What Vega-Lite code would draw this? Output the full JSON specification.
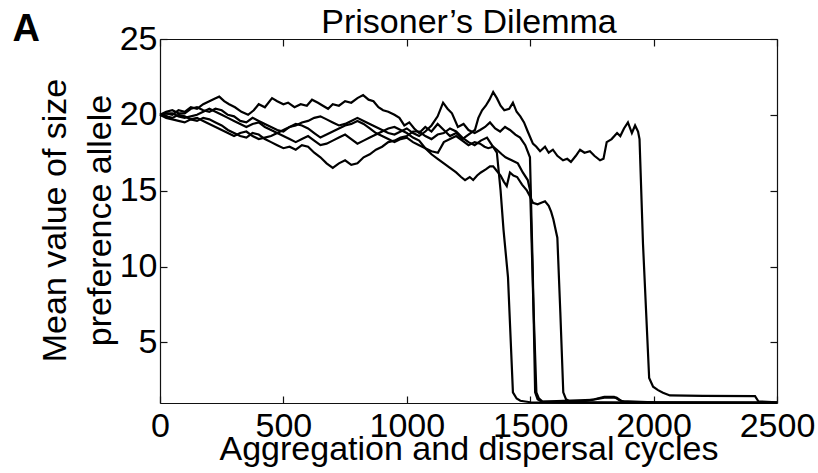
{
  "$schema": "https://vega.github.io/schema/vega-lite/v6.json",
  "width": 617,
  "height": 364,
  "autosize": {"type": "none"},
  "padding": {"left": 160, "top": 39, "right": 41, "bottom": 70},
  "config": {
    "font": "Liberation Sans",
    "view": {"stroke": null},
    "axis": {
      "grid": false,
      "domainColor": "#111",
      "domainWidth": 1.2,
      "tickColor": "#111",
      "tickWidth": 1.2,
      "tickSize": -7,
      "labelFontSize": 34,
      "labelColor": "#000",
      "labelFlush": false,
      "labelOverlap": false,
      "titleFontSize": 34,
      "titleFontWeight": "normal",
      "titleColor": "#000"
    }
  },
  "data": {"values": [
    {"s":"1","x":0,"y":20},{"s":"1","x":25,"y":19.9},{"s":"1","x":50,"y":19.8},{"s":"1","x":75,"y":20.0},{"s":"1","x":100,"y":19.9},{"s":"1","x":125,"y":19.7},{"s":"1","x":150,"y":19.6},{"s":"1","x":175,"y":19.8},{"s":"1","x":200,"y":19.7},{"s":"1","x":225,"y":19.5},{"s":"1","x":250,"y":19.3},{"s":"1","x":275,"y":19.0},{"s":"1","x":300,"y":18.8},{"s":"1","x":325,"y":18.6},{"s":"1","x":350,"y":18.5},{"s":"1","x":375,"y":18.8},{"s":"1","x":400,"y":18.7},{"s":"1","x":425,"y":18.4},{"s":"1","x":450,"y":18.2},{"s":"1","x":475,"y":18.0},{"s":"1","x":500,"y":17.8},{"s":"1","x":525,"y":17.9},{"s":"1","x":550,"y":17.7},{"s":"1","x":575,"y":18.0},{"s":"1","x":600,"y":17.9},{"s":"1","x":625,"y":17.5},{"s":"1","x":650,"y":17.2},{"s":"1","x":675,"y":16.8},{"s":"1","x":700,"y":16.5},{"s":"1","x":725,"y":16.8},{"s":"1","x":750,"y":17.0},{"s":"1","x":775,"y":16.7},{"s":"1","x":800,"y":16.8},{"s":"1","x":825,"y":17.2},{"s":"1","x":850,"y":17.4},{"s":"1","x":875,"y":17.7},{"s":"1","x":900,"y":17.9},{"s":"1","x":925,"y":18.2},{"s":"1","x":950,"y":18.3},{"s":"1","x":975,"y":18.5},{"s":"1","x":1000,"y":18.6},{"s":"1","x":1025,"y":18.9},{"s":"1","x":1050,"y":18.9},{"s":"1","x":1075,"y":18.6},{"s":"1","x":1100,"y":18.4},{"s":"1","x":1125,"y":18.7},{"s":"1","x":1150,"y":18.8},{"s":"1","x":1175,"y":19.1},{"s":"1","x":1200,"y":18.9},{"s":"1","x":1225,"y":18.5},{"s":"1","x":1250,"y":18.2},{"s":"1","x":1275,"y":18.0},{"s":"1","x":1300,"y":18.3},{"s":"1","x":1325,"y":18.5},{"s":"1","x":1345,"y":18.0},{"s":"1","x":1365,"y":17.5},{"s":"1","x":1380,"y":15.0},{"s":"1","x":1392,"y":12.4},{"s":"1","x":1410,"y":9.3},{"s":"1","x":1430,"y":1.7},{"s":"1","x":1445,"y":1.3},{"s":"1","x":1460,"y":1.15},{"s":"1","x":1500,"y":1.05},{"s":"1","x":1700,"y":1.02},{"s":"1","x":2000,"y":1.0},{"s":"1","x":2500,"y":1.0},
    {"s":"2","x":0,"y":20},{"s":"2","x":25,"y":20.2},{"s":"2","x":50,"y":20.3},{"s":"2","x":75,"y":20.1},{"s":"2","x":100,"y":20.1},{"s":"2","x":125,"y":20.4},{"s":"2","x":150,"y":20.5},{"s":"2","x":175,"y":20.3},{"s":"2","x":200,"y":20.2},{"s":"2","x":225,"y":20.4},{"s":"2","x":250,"y":20.3},{"s":"2","x":275,"y":20.0},{"s":"2","x":300,"y":19.9},{"s":"2","x":325,"y":19.6},{"s":"2","x":350,"y":19.5},{"s":"2","x":375,"y":19.8},{"s":"2","x":400,"y":19.6},{"s":"2","x":425,"y":19.4},{"s":"2","x":450,"y":19.2},{"s":"2","x":475,"y":19.0},{"s":"2","x":500,"y":18.9},{"s":"2","x":525,"y":19.2},{"s":"2","x":550,"y":19.3},{"s":"2","x":575,"y":19.5},{"s":"2","x":600,"y":19.6},{"s":"2","x":625,"y":19.8},{"s":"2","x":650,"y":19.9},{"s":"2","x":675,"y":19.7},{"s":"2","x":700,"y":19.5},{"s":"2","x":725,"y":19.3},{"s":"2","x":750,"y":19.4},{"s":"2","x":775,"y":19.6},{"s":"2","x":800,"y":19.8},{"s":"2","x":825,"y":19.6},{"s":"2","x":850,"y":19.4},{"s":"2","x":875,"y":19.2},{"s":"2","x":900,"y":19.0},{"s":"2","x":925,"y":18.8},{"s":"2","x":950,"y":18.7},{"s":"2","x":975,"y":18.9},{"s":"2","x":1000,"y":19.1},{"s":"2","x":1025,"y":18.8},{"s":"2","x":1050,"y":18.6},{"s":"2","x":1075,"y":18.9},{"s":"2","x":1100,"y":19.3},{"s":"2","x":1125,"y":19.9},{"s":"2","x":1147,"y":20.8},{"s":"2","x":1165,"y":20.4},{"s":"2","x":1183,"y":20.1},{"s":"2","x":1207,"y":19.2},{"s":"2","x":1230,"y":19.4},{"s":"2","x":1250,"y":19.0},{"s":"2","x":1275,"y":18.8},{"s":"2","x":1297,"y":19.0},{"s":"2","x":1317,"y":19.2},{"s":"2","x":1337,"y":19.5},{"s":"2","x":1358,"y":19.1},{"s":"2","x":1378,"y":18.9},{"s":"2","x":1398,"y":19.2},{"s":"2","x":1418,"y":19.0},{"s":"2","x":1440,"y":18.7},{"s":"2","x":1459,"y":18.5},{"s":"2","x":1480,"y":18.0},{"s":"2","x":1499,"y":17.2},{"s":"2","x":1510,"y":10.0},{"s":"2","x":1520,"y":1.7},{"s":"2","x":1530,"y":1.25},{"s":"2","x":1545,"y":1.1},{"s":"2","x":1700,"y":1.05},{"s":"2","x":2000,"y":1.02},{"s":"2","x":2500,"y":1.0},
    {"s":"3","x":0,"y":20},{"s":"3","x":25,"y":19.8},{"s":"3","x":50,"y":19.7},{"s":"3","x":75,"y":19.6},{"s":"3","x":100,"y":19.5},{"s":"3","x":125,"y":19.7},{"s":"3","x":150,"y":19.8},{"s":"3","x":175,"y":19.6},{"s":"3","x":200,"y":19.4},{"s":"3","x":225,"y":19.2},{"s":"3","x":250,"y":19.0},{"s":"3","x":275,"y":18.8},{"s":"3","x":300,"y":18.6},{"s":"3","x":325,"y":18.8},{"s":"3","x":350,"y":18.9},{"s":"3","x":375,"y":18.6},{"s":"3","x":400,"y":18.4},{"s":"3","x":425,"y":18.5},{"s":"3","x":450,"y":18.6},{"s":"3","x":475,"y":18.8},{"s":"3","x":500,"y":19.0},{"s":"3","x":525,"y":19.2},{"s":"3","x":550,"y":19.4},{"s":"3","x":575,"y":19.3},{"s":"3","x":600,"y":19.1},{"s":"3","x":625,"y":18.8},{"s":"3","x":650,"y":18.5},{"s":"3","x":675,"y":18.7},{"s":"3","x":700,"y":18.9},{"s":"3","x":725,"y":19.1},{"s":"3","x":750,"y":19.3},{"s":"3","x":775,"y":19.4},{"s":"3","x":800,"y":19.6},{"s":"3","x":825,"y":19.4},{"s":"3","x":850,"y":19.1},{"s":"3","x":875,"y":18.8},{"s":"3","x":900,"y":18.6},{"s":"3","x":925,"y":18.4},{"s":"3","x":950,"y":18.2},{"s":"3","x":975,"y":18.4},{"s":"3","x":1000,"y":18.5},{"s":"3","x":1025,"y":18.2},{"s":"3","x":1050,"y":18.0},{"s":"3","x":1075,"y":17.8},{"s":"3","x":1100,"y":17.6},{"s":"3","x":1126,"y":17.5},{"s":"3","x":1150,"y":18.2},{"s":"3","x":1175,"y":18.4},{"s":"3","x":1200,"y":18.6},{"s":"3","x":1225,"y":18.3},{"s":"3","x":1250,"y":18.0},{"s":"3","x":1275,"y":18.2},{"s":"3","x":1297,"y":18.1},{"s":"3","x":1315,"y":17.9},{"s":"3","x":1330,"y":17.8},{"s":"3","x":1350,"y":17.9},{"s":"3","x":1365,"y":17.7},{"s":"3","x":1385,"y":17.4},{"s":"3","x":1400,"y":17.2},{"s":"3","x":1425,"y":17.0},{"s":"3","x":1450,"y":16.8},{"s":"3","x":1470,"y":16.2},{"s":"3","x":1490,"y":15.7},{"s":"3","x":1500,"y":15.0},{"s":"3","x":1512,"y":8.0},{"s":"3","x":1525,"y":1.7},{"s":"3","x":1535,"y":1.3},{"s":"3","x":1550,"y":1.1},{"s":"3","x":1750,"y":1.2},{"s":"3","x":1800,"y":1.35},{"s":"3","x":1850,"y":1.35},{"s":"3","x":1870,"y":1.12},{"s":"3","x":2000,"y":1.05},{"s":"3","x":2500,"y":1.02},
    {"s":"4","x":0,"y":20},{"s":"4","x":25,"y":20.1},{"s":"4","x":50,"y":20.1},{"s":"4","x":75,"y":19.9},{"s":"4","x":100,"y":19.8},{"s":"4","x":125,"y":19.9},{"s":"4","x":150,"y":20.0},{"s":"4","x":175,"y":20.2},{"s":"4","x":200,"y":20.4},{"s":"4","x":225,"y":20.2},{"s":"4","x":250,"y":20.0},{"s":"4","x":275,"y":19.8},{"s":"4","x":300,"y":19.6},{"s":"4","x":325,"y":19.4},{"s":"4","x":350,"y":19.2},{"s":"4","x":375,"y":19.4},{"s":"4","x":400,"y":19.5},{"s":"4","x":425,"y":19.2},{"s":"4","x":450,"y":19.0},{"s":"4","x":475,"y":18.8},{"s":"4","x":500,"y":18.6},{"s":"4","x":525,"y":18.4},{"s":"4","x":550,"y":18.2},{"s":"4","x":575,"y":18.4},{"s":"4","x":600,"y":18.6},{"s":"4","x":625,"y":18.3},{"s":"4","x":650,"y":18.0},{"s":"4","x":675,"y":18.1},{"s":"4","x":700,"y":18.3},{"s":"4","x":725,"y":18.5},{"s":"4","x":750,"y":18.7},{"s":"4","x":775,"y":18.4},{"s":"4","x":800,"y":18.1},{"s":"4","x":825,"y":18.3},{"s":"4","x":850,"y":18.5},{"s":"4","x":875,"y":18.7},{"s":"4","x":900,"y":18.9},{"s":"4","x":925,"y":19.1},{"s":"4","x":950,"y":19.2},{"s":"4","x":975,"y":19.0},{"s":"4","x":1000,"y":18.8},{"s":"4","x":1025,"y":18.5},{"s":"4","x":1050,"y":18.3},{"s":"4","x":1075,"y":17.8},{"s":"4","x":1100,"y":17.4},{"s":"4","x":1125,"y":17.1},{"s":"4","x":1150,"y":16.8},{"s":"4","x":1175,"y":16.5},{"s":"4","x":1200,"y":16.2},{"s":"4","x":1220,"y":15.9},{"s":"4","x":1236,"y":15.7},{"s":"4","x":1255,"y":15.9},{"s":"4","x":1269,"y":15.7},{"s":"4","x":1285,"y":16.0},{"s":"4","x":1300,"y":16.2},{"s":"4","x":1320,"y":16.4},{"s":"4","x":1337,"y":16.6},{"s":"4","x":1350,"y":16.6},{"s":"4","x":1365,"y":16.3},{"s":"4","x":1380,"y":16.0},{"s":"4","x":1393,"y":15.6},{"s":"4","x":1405,"y":15.3},{"s":"4","x":1418,"y":16.2},{"s":"4","x":1432,"y":16.0},{"s":"4","x":1447,"y":15.9},{"s":"4","x":1467,"y":15.4},{"s":"4","x":1487,"y":15.0},{"s":"4","x":1500,"y":14.6},{"s":"4","x":1511,"y":14.2},{"s":"4","x":1530,"y":14.1},{"s":"4","x":1545,"y":14.2},{"s":"4","x":1560,"y":14.3},{"s":"4","x":1575,"y":14.0},{"s":"4","x":1585,"y":13.6},{"s":"4","x":1594,"y":13.1},{"s":"4","x":1610,"y":11.9},{"s":"4","x":1622,"y":7.0},{"s":"4","x":1634,"y":1.7},{"s":"4","x":1645,"y":1.25},{"s":"4","x":1660,"y":1.1},{"s":"4","x":1720,"y":1.12},{"s":"4","x":1760,"y":1.25},{"s":"4","x":1800,"y":1.4},{"s":"4","x":1840,"y":1.4},{"s":"4","x":1860,"y":1.2},{"s":"4","x":1880,"y":1.08},{"s":"4","x":2000,"y":1.05},{"s":"4","x":2500,"y":1.02},
    {"s":"5","x":0,"y":20.0},{"s":"5","x":25,"y":20.1},{"s":"5","x":50,"y":20.0},{"s":"5","x":75,"y":20.3},{"s":"5","x":100,"y":20.2},{"s":"5","x":125,"y":20.5},{"s":"5","x":150,"y":20.4},{"s":"5","x":175,"y":20.7},{"s":"5","x":200,"y":20.9},{"s":"5","x":225,"y":21.1},{"s":"5","x":240,"y":21.2},{"s":"5","x":260,"y":20.9},{"s":"5","x":280,"y":20.7},{"s":"5","x":304,"y":20.5},{"s":"5","x":330,"y":20.2},{"s":"5","x":357,"y":20.0},{"s":"5","x":380,"y":20.3},{"s":"5","x":400,"y":20.7},{"s":"5","x":425,"y":20.5},{"s":"5","x":454,"y":21.1},{"s":"5","x":475,"y":20.9},{"s":"5","x":500,"y":20.7},{"s":"5","x":519,"y":20.8},{"s":"5","x":545,"y":20.5},{"s":"5","x":570,"y":20.7},{"s":"5","x":595,"y":20.6},{"s":"5","x":616,"y":21.0},{"s":"5","x":640,"y":20.8},{"s":"5","x":660,"y":20.6},{"s":"5","x":681,"y":20.4},{"s":"5","x":700,"y":20.7},{"s":"5","x":725,"y":20.6},{"s":"5","x":750,"y":20.9},{"s":"5","x":775,"y":20.8},{"s":"5","x":800,"y":21.1},{"s":"5","x":823,"y":21.3},{"s":"5","x":845,"y":21.0},{"s":"5","x":865,"y":20.9},{"s":"5","x":885,"y":20.5},{"s":"5","x":904,"y":20.3},{"s":"5","x":925,"y":20.2},{"s":"5","x":950,"y":20.0},{"s":"5","x":970,"y":19.8},{"s":"5","x":990,"y":19.3},{"s":"5","x":1010,"y":19.5},{"s":"5","x":1030,"y":19.1},{"s":"5","x":1050,"y":18.8},{"s":"5","x":1075,"y":19.2},{"s":"5","x":1100,"y":18.9},{"s":"5","x":1125,"y":19.4},{"s":"5","x":1150,"y":19.0},{"s":"5","x":1175,"y":18.6},{"s":"5","x":1200,"y":18.8},{"s":"5","x":1225,"y":18.4},{"s":"5","x":1250,"y":18.7},{"s":"5","x":1276,"y":19.0},{"s":"5","x":1290,"y":19.8},{"s":"5","x":1305,"y":20.3},{"s":"5","x":1320,"y":20.6},{"s":"5","x":1335,"y":21.0},{"s":"5","x":1350,"y":21.5},{"s":"5","x":1365,"y":21.1},{"s":"5","x":1380,"y":20.6},{"s":"5","x":1395,"y":20.3},{"s":"5","x":1415,"y":20.4},{"s":"5","x":1430,"y":20.8},{"s":"5","x":1445,"y":20.2},{"s":"5","x":1460,"y":19.9},{"s":"5","x":1475,"y":19.5},{"s":"5","x":1490,"y":18.9},{"s":"5","x":1511,"y":18.1},{"s":"5","x":1525,"y":17.9},{"s":"5","x":1540,"y":17.6},{"s":"5","x":1560,"y":17.9},{"s":"5","x":1575,"y":17.5},{"s":"5","x":1592,"y":17.7},{"s":"5","x":1610,"y":17.3},{"s":"5","x":1633,"y":17.0},{"s":"5","x":1650,"y":17.1},{"s":"5","x":1665,"y":16.9},{"s":"5","x":1685,"y":17.3},{"s":"5","x":1702,"y":17.7},{"s":"5","x":1720,"y":17.5},{"s":"5","x":1742,"y":17.6},{"s":"5","x":1760,"y":17.3},{"s":"5","x":1783,"y":17.0},{"s":"5","x":1797,"y":17.1},{"s":"5","x":1810,"y":18.2},{"s":"5","x":1830,"y":18.4},{"s":"5","x":1852,"y":18.8},{"s":"5","x":1865,"y":18.6},{"s":"5","x":1880,"y":19.1},{"s":"5","x":1896,"y":19.5},{"s":"5","x":1912,"y":18.8},{"s":"5","x":1925,"y":19.3},{"s":"5","x":1937,"y":18.9},{"s":"5","x":1943,"y":18.4},{"s":"5","x":1957,"y":11.5},{"s":"5","x":1982,"y":2.65},{"s":"5","x":1998,"y":2.07},{"s":"5","x":2018,"y":1.85},{"s":"5","x":2038,"y":1.68},{"s":"5","x":2066,"y":1.5},{"s":"5","x":2200,"y":1.47},{"s":"5","x":2411,"y":1.45},{"s":"5","x":2425,"y":1.1},{"s":"5","x":2500,"y":1.05}
  ]},
  "layer": [
    {
      "mark": {"type": "line", "color": "#000", "strokeWidth": 2.2},
      "encoding": {
        "x": {"field": "x", "type": "quantitative",
          "scale": {"domain": [0, 2500], "nice": false, "zero": false},
          "axis": {"orient": "bottom", "values": [0, 500, 1000, 1500, 2000, 2500], "format": "d",
            "title": "Aggregation and dispersal cycles",
            "labelPadding": 40, "labelBaseline": "alphabetic",
            "titleY": 56, "titleBaseline": "alphabetic"}},
        "y": {"field": "y", "type": "quantitative",
          "scale": {"domain": [1, 25], "nice": false, "zero": false},
          "axis": {"orient": "left", "values": [5, 10, 15, 20, 25], "format": "d",
            "title": ["Mean value of size", "preference allele"],
            "labelPadding": 10,
            "titleAngle": -90, "titleX": -95, "titleY": 181, "titleAlign": "center",
            "titleBaseline": "alphabetic", "titleLineHeight": 45}},
        "detail": {"field": "s"}
      }
    },
    {
      "mark": {"type": "line", "opacity": 0},
      "encoding": {
        "x": {"field": "x", "type": "quantitative",
          "axis": {"orient": "top", "values": [0, 500, 1000, 1500, 2000, 2500], "labels": false,
            "title": "Prisoner\u2019s Dilemma", "titleY": -7, "titleBaseline": "alphabetic"}},
        "y": {"field": "y", "type": "quantitative",
          "axis": {"orient": "right", "values": [5, 10, 15, 20, 25], "labels": false,
            "title": "A", "titleAngle": 0, "titleX": -765, "titleY": 1, "titleAlign": "left",
            "titleBaseline": "alphabetic", "titleFontSize": 38, "titleFontWeight": "bold"}},
        "detail": {"field": "s"}
      }
    }
  ],
  "resolve": {"axis": {"x": "independent", "y": "independent"}}
}
